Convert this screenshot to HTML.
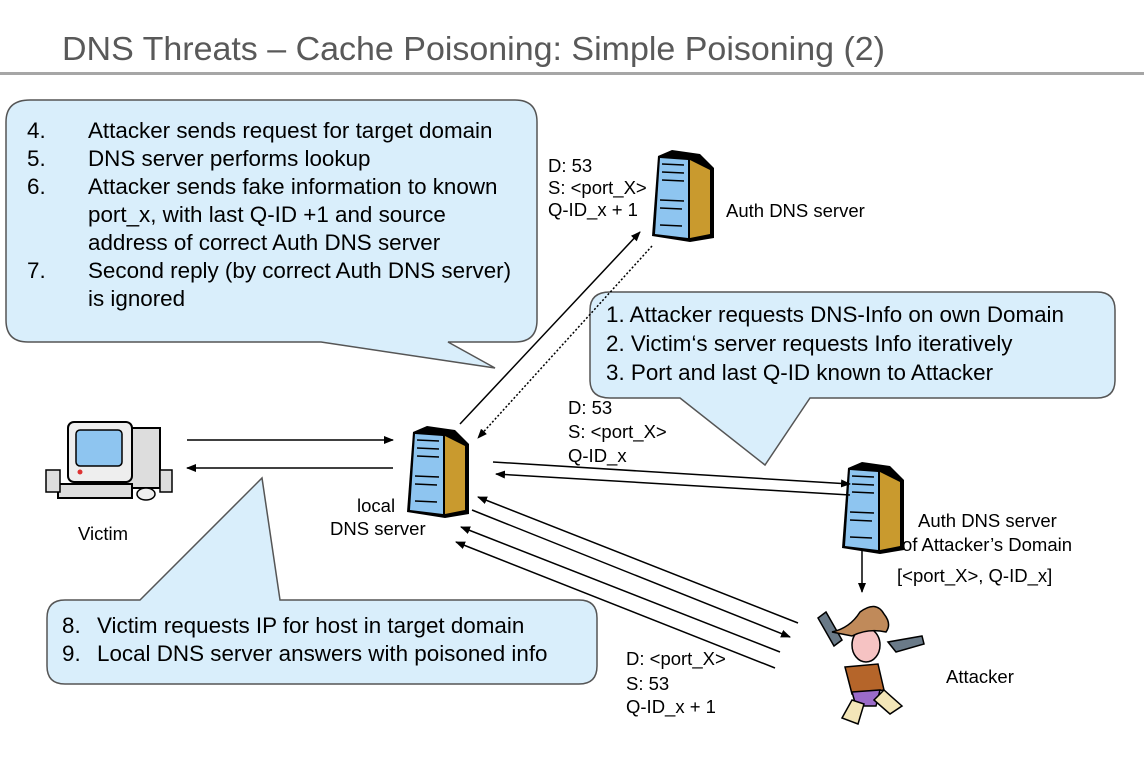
<!DOCTYPE html>
<html><head><meta charset="utf-8"><style>
body{margin:0;background:#fff;}
svg{display:block;font-family:"Liberation Sans",Arial,sans-serif;}
.t{font-size:22.4px;fill:#000}
.s{font-size:18.5px;fill:#000}
</style></head><body>
<svg width="1144" height="762" viewBox="0 0 1144 762" xmlns="http://www.w3.org/2000/svg">
<defs>
<marker id="a" markerWidth="10" markerHeight="8" refX="9" refY="4" orient="auto" markerUnits="userSpaceOnUse"><path d="M0,0 L10,4 L0,8 z" fill="#000"/></marker>
<g id="srv">
<path d="M22,0 L50,4 L64,18 L64,88 L40,92 L2,86 L8,6 Z" fill="#000"/>
<path d="M40,10 L60,20 L60,84 L40,88 Z" fill="#c99a2e"/>
<path d="M10,8 L38,10 L38,88 L5,84 Z" fill="#8ec5f0"/>
<path d="M12,14 L34,15 M12,22 L34,23 M12,30 L34,31 M10,50 L34,51 M10,58 L32,59 M10,75 L32,76" stroke="#000" stroke-width="1.5"/>
</g>
</defs>
<text x="62" y="60" font-size="33" fill="#595959" textLength="823" lengthAdjust="spacingAndGlyphs">DNS Threats – Cache Poisoning: Simple Poisoning (2)</text>
<rect x="0" y="72" width="1144" height="3" fill="#a6a6a6"/>

<!-- callout 1 -->
<path d="M30,100 H515 Q537,100 537,122 V320 Q537,342 515,342 H448 L495,368 L321,342 H28 Q6,342 6,320 V122 Q6,100 30,100 Z" fill="#d9eefb" stroke="#555" stroke-width="1.5"/>
<g class="t">
<text x="27" y="138">4.</text><text x="88" y="138">Attacker sends request for target domain</text>
<text x="27" y="166">5.</text><text x="88" y="166">DNS server performs lookup</text>
<text x="27" y="194">6.</text><text x="88" y="194">Attacker sends fake information to known</text>
<text x="88" y="222">port_x, with last Q-ID +1 and source</text>
<text x="88" y="250">address of correct Auth DNS server</text>
<text x="27" y="278">7.</text><text x="88" y="278">Second reply (by correct Auth DNS server)</text>
<text x="88" y="306">is ignored</text>
</g>

<!-- callout 2 -->
<path d="M610,292 H1097 Q1115,292 1115,310 V380 Q1115,398 1097,398 H810 L765,465 L680,398 H610 Q590,398 590,380 V310 Q590,292 610,292 Z" fill="#d9eefb" stroke="#555" stroke-width="1.5"/>
<g class="t">
<text x="606" y="322">1. Attacker requests DNS-Info on own Domain</text>
<text x="606" y="351">2. Victim‘s server requests Info iteratively</text>
<text x="606" y="380">3. Port and last Q-ID known to Attacker</text>
</g>

<!-- callout 3 -->
<path d="M65,600 H140 L262,478 L280,600 H579 Q597,600 597,618 V666 Q597,684 579,684 H65 Q47,684 47,666 V618 Q47,600 65,600 Z" fill="#d9eefb" stroke="#555" stroke-width="1.5"/>
<g class="t">
<text x="62" y="633">8.</text><text x="97" y="633">Victim requests IP for host in target domain</text>
<text x="62" y="661">9.</text><text x="97" y="661">Local DNS server answers with poisoned info</text>
</g>

<!-- servers -->
<use href="#srv" x="650" y="150"/>
<use href="#srv" x="405" y="426"/>
<use href="#srv" x="840" y="462"/>

<!-- victim computer -->
<g>
<rect x="108" y="428" width="52" height="60" fill="#ddd" stroke="#000" stroke-width="2"/>
<rect x="68" y="422" width="64" height="60" rx="6" fill="#eee" stroke="#000" stroke-width="2"/>
<rect x="76" y="430" width="46" height="36" rx="4" fill="#8ec5f0" stroke="#000" stroke-width="1.5"/>
<rect x="58" y="484" width="74" height="14" fill="#ddd" stroke="#000" stroke-width="2"/>
<rect x="46" y="470" width="14" height="22" fill="#ddd" stroke="#000" stroke-width="1.5"/>
<rect x="160" y="470" width="12" height="22" fill="#ddd" stroke="#000" stroke-width="1.5"/>
<ellipse cx="146" cy="494" rx="9" ry="6" fill="#eee" stroke="#000" stroke-width="1.5"/>
<circle cx="80" cy="472" r="2.5" fill="#d33"/>
</g>

<!-- attacker -->
<g stroke="#000" stroke-width="1.5">
<path d="M818,618 L826,612 L842,640 L834,646 Z" fill="#6a7a88"/>
<path d="M888,642 L922,636 L924,644 L896,652 Z" fill="#6a7a88"/>
<path d="M845,667 L878,664 L884,690 L852,694 Z" fill="#b5652a"/>
<path d="M852,692 L880,690 L876,706 L856,706 Z" fill="#9b6bc9"/>
<path d="M852,700 L842,718 L858,724 L864,704 Z" fill="#f3e6b8"/>
<path d="M874,700 L890,714 L902,706 L884,690 Z" fill="#f3e6b8"/>
<ellipse cx="866" cy="645" rx="14" ry="17" fill="#f6c3c3"/>
<path d="M832,632 Q850,628 860,612 Q876,600 884,614 Q892,624 886,632 Q868,628 852,636 Z" fill="#c08a5a"/>
</g>

<!-- arrows -->
<g stroke="#000" stroke-width="1.5" fill="none">
<line x1="187" y1="440" x2="393" y2="440" marker-end="url(#a)"/>
<line x1="393" y1="468" x2="187" y2="468" marker-end="url(#a)"/>
<line x1="460" y1="424" x2="640" y2="232" marker-end="url(#a)"/>
<line x1="652" y1="246" x2="478" y2="438" stroke-dasharray="2,2" marker-end="url(#a)"/>
<line x1="493" y1="462" x2="850" y2="484" marker-end="url(#a)"/>
<line x1="850" y1="495" x2="496" y2="474" marker-end="url(#a)"/>
<line x1="798" y1="623" x2="478" y2="497" marker-end="url(#a)"/>
<line x1="472" y1="510" x2="790" y2="637" marker-end="url(#a)"/>
<line x1="780" y1="652" x2="461" y2="527" marker-end="url(#a)"/>
<line x1="775" y1="668" x2="456" y2="542" marker-end="url(#a)"/>
<line x1="862" y1="550" x2="862" y2="592" marker-end="url(#a)"/>
</g>

<g class="s">
<text x="548" y="172">D: 53</text>
<text x="548" y="194">S: &lt;port_X&gt;</text>
<text x="548" y="216">Q-ID_x + 1</text>
<text x="726" y="217">Auth DNS server</text>
<text x="568" y="414">D: 53</text>
<text x="568" y="438">S: &lt;port_X&gt;</text>
<text x="568" y="462">Q-ID_x</text>
<text x="357" y="512">local</text>
<text x="330" y="535">DNS server</text>
<text x="78" y="540">Victim</text>
<text x="918" y="527">Auth DNS server</text>
<text x="902" y="551">of Attacker’s Domain</text>
<text x="897" y="582">[&lt;port_X&gt;, Q-ID_x]</text>
<text x="946" y="683">Attacker</text>
<text x="626" y="665">D: &lt;port_X&gt;</text>
<text x="626" y="690">S: 53</text>
<text x="626" y="713">Q-ID_x + 1</text>
</g>
</svg>
</body></html>
